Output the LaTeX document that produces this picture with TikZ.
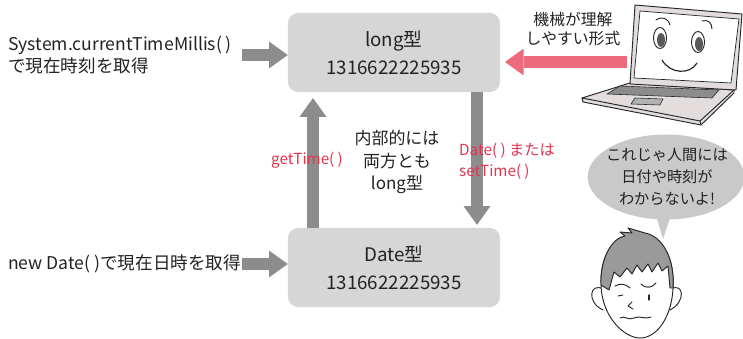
\documentclass[tikz,border=0pt]{standalone}
\usepackage{fontspec}
\setmainfont{Noto Sans CJK JP}
\usetikzlibrary{arrows.meta,shapes.geometric}
\definecolor{boxgray}{HTML}{D6D6D6}
\definecolor{arrowgray}{HTML}{8C8C8C}
\definecolor{pinkarrow}{HTML}{EE6B7C}
\definecolor{redtext}{HTML}{E2344F}
\definecolor{textdark}{HTML}{222222}
\definecolor{bubblegray}{HTML}{C9C9C9}
\definecolor{hairgray}{HTML}{9A9A9A}
\definecolor{laptopbody}{HTML}{E2DCDC}
\newcommand{\emptyparens}{(\hspace{0.22em})}
\tikzset{
  valuebox/.style={rectangle, rounded corners=0.3cm, fill=boxgray,
    minimum width=6.36cm, minimum height=2.37cm, align=center,
    font=\fontsize{16}{24}\selectfont, text=textdark},
  plaintext/.style={align=left, font=\fontsize{15}{18.5}\selectfont, text=textdark, inner sep=0pt},
  redlabel/.style={align=left, font=\fontsize{13}{18}\selectfont, text=redtext, inner sep=0pt},
  blockarrow/.style={draw=arrowgray, line width=10.5pt,
    -{Triangle[width=23pt, length=16pt, line width=0pt, fill=arrowgray]}},
  pinkblock/.style={draw=pinkarrow, line width=10.5pt,
    -{Triangle[width=23pt, length=16pt, line width=0pt, fill=pinkarrow]}},
  outline/.style={draw=black!85, line width=0.8pt, line join=round, line cap=round},
}
\begin{document}
\begin{tikzpicture}[x=0.03cm, y=-0.03cm]
\useasboundingbox (0,0) rectangle (743,339);

% the two value boxes
\node[valuebox] (longbox) at (394,52.5) {long型\\1316622225935};
\node[valuebox] (datebox) at (394,267.5) {Date型\\1316622225935};

% left-hand sources
\node[plaintext, anchor=west] (systext) at (8,55) {System.currentTimeMillis\emptyparens\\で現在時刻を取得};
\node[plaintext, anchor=west] (newtext) at (8,264) {new Date\emptyparens で現在日時を取得};
\coordinate (sysfrom) at (242,55);
\coordinate (newfrom) at (242,264);
\draw[blockarrow] (sysfrom) -- (sysfrom -| longbox.west);
\draw[blockarrow] (newfrom) -- (newfrom -| datebox.west);

% conversions between the two boxes
\coordinate (upfoot) at (313,228);
\coordinate (downtop) at (477,92);
\draw[blockarrow, shorten >=5pt] (upfoot) -- (upfoot |- longbox.south);
\draw[blockarrow, shorten >=2.5pt] (downtop) -- (downtop |- datebox.north);
\node[redlabel, anchor=west] (gettime) at (271,160) {getTime\emptyparens};
\node[redlabel, anchor=west] (settime) at (459,161) {Date\emptyparens\ または\\setTime\emptyparens};
\node[plaintext, align=center, font=\fontsize{14.5}{19}\selectfont] (inner) at (397,162) {内部的には\\両方とも\\long型};

% laptop
\node[plaintext, align=center, font=\fontsize{13.5}{16}\selectfont] (machine) at (573,29) {機械が理解\\しやすい形式};
\coordinate (laptop) at (627,62);
\draw[pinkblock, shorten >=4pt] (laptop) -- (laptop -| longbox.east);
\begin{scope}
  % base
  \filldraw[outline, fill=laptopbody] (630,83) -- (734,90) -- (734,93) -- (701,125) -- (583,102) -- (582,98) -- cycle;
  \draw[outline] (582,98) -- (700,121) -- (734,90);
  \draw[outline] (700,121) -- (701,125);
  % keyboard and trackpad
  \filldraw[outline, line width=0.5pt, fill=black!45] (620,86) -- (719,90) -- (712,98) -- (607,94) -- cycle;
  \filldraw[outline, line width=0.5pt, fill=black!30] (635,98) -- (663,99) -- (660,105) -- (631,104) -- cycle;
  % screen
  \filldraw[outline, fill=laptopbody] (630,84) -- (635,5) -- (742,14) -- (736,90) -- cycle;
  \filldraw[outline, line width=0.6pt, fill=white] (634,78) -- (640,11) -- (739,19) -- (731,83) -- cycle;
  % face on the screen
  \filldraw[outline, fill=white] (660,38) ellipse (6.5 and 10.5);
  \fill[black!65] (661,40) ellipse (4 and 7);
  \filldraw[outline, fill=white] (698,42) ellipse (6.5 and 10.5);
  \fill[black!65] (699,44) ellipse (4 and 7);
  \draw[outline] (656,20) .. controls (662,16) and (668,18) .. (670,25);
  \draw[outline] (702,21) .. controls (708,19) and (712,23) .. (712,29);
  \draw[outline, line width=1pt] (662,60) .. controls (670,74) and (690,75) .. (697,63);
\end{scope}

% speech bubble
\fill[bubblegray] (655,212) -- (663,239) -- (672,212) -- cycle;
\node[ellipse, fill=bubblegray, minimum width=4.7cm, minimum height=2.55cm, inner sep=0pt] (bubble) at (666,177) {};
\node[plaintext, align=center, font=\fontsize{13}{18.5}\selectfont] (worry) at (667,177) {これじゃ人間には\\日付や時刻が\\わからないよ!};

% person
\begin{scope}
  % ears
  \filldraw[outline, fill=white] (603,289) .. controls (590,282) and (586,302) .. (603,310);
  \filldraw[outline, fill=white] (671,289) .. controls (684,282) and (686,302) .. (670,310);
  % head
  \filldraw[outline, fill=white] (637,234) .. controls (610,235) and (600,260) .. (601,285)
    .. controls (602,318) and (625,338) .. (640,338)
    .. controls (658,338) and (672,315) .. (673,288)
    .. controls (675,258) and (662,234) .. (637,234) -- cycle;
  % hair
  \filldraw[outline, fill=hairgray] (601,285) .. controls (600,258) and (612,238) .. (625,236)
    -- (620,232) -- (632,233) -- (628,228) -- (645,233)
    .. controls (662,236) and (675,258) .. (673,288)
    -- (670,288) -- (668,266) -- (662,271) -- (658,263) -- (652,272) -- (648,264)
    -- (642,272) -- (637,265) -- (632,274) -- (627,268) -- (620,277) -- (614,272)
    -- (609,290) -- cycle;
  % features
  \draw[outline] (615,286) .. controls (620,283) and (626,284) .. (630,288);
  \draw[outline] (641,284) .. controls (646,289) and (652,288) .. (656,283);
  \draw[outline] (618,296) -- (623,295);
  \draw[outline, line width=1.1pt] (649,295) -- (649,300);
  \draw[outline] (632,302) -- (628,306) -- (633,309);
  \draw[outline] (620,318) .. controls (625,315) and (628,321) .. (634,318) .. controls (640,315) and (645,320) .. (651,317);
\end{scope}
\end{tikzpicture}
\end{document}
